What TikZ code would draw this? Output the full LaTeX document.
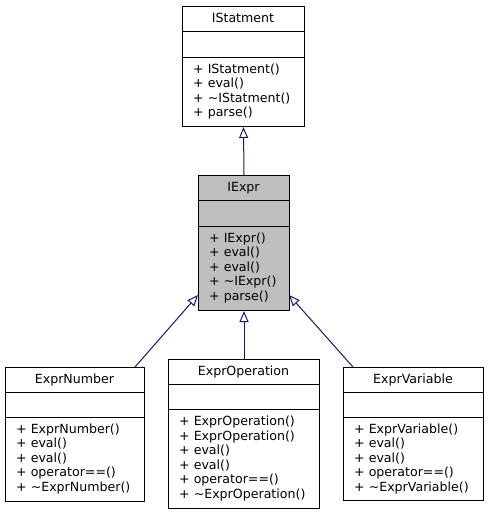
\documentclass[tikz,border=0pt]{standalone}
\usepackage{fontspec}
\setmainfont{DejaVu Sans}
\usetikzlibrary{arrows.meta}
\definecolor{edgeblue}{HTML}{191970}
\definecolor{grey75}{HTML}{BFBFBF}
\tikzset{
  box/.style={draw=black, line width=1pt},
  divider/.style={draw=black, line width=1pt},
  title/.style={anchor=base, inner sep=0pt, font=\fontsize{12.6}{14.5}\selectfont},
  members/.style={anchor=north west, inner sep=0pt, align=left, font=\fontsize{12.6}{14.5}\selectfont},
  inherit/.style={draw=edgeblue, line width=1pt, -{Triangle[open, length=11pt, width=9pt, fill=white]}}
}
% #1 name, #2 left, #3 top, #4 right, #5 bottom, #6 div1, #7 div2, #8 title, #9 fill
\newcommand{\umlbox}[9]{%
  \node[box, fill=#9, minimum width={#4-#2}, minimum height={#5-#3}, inner sep=0pt, anchor=north west] (#1) at (#2,#3) {};
  \draw[divider] (#2,#6) -- (#4,#6);
  \draw[divider] (#2,#7) -- (#4,#7);
  \node[title] (#1-title) at ({(#2+#4)/2},#3+16.5) {#8};
}
% members node: #1 name, #2 x, #3 baseline of first line, #4 text
\newcommand{\umlmembers}[4]{%
  \node[members] (#1) at (#2,#3-10.15) {\strut#4};
}
\begin{document}
\begin{tikzpicture}[x=1pt, y=-1pt]
\useasboundingbox (0,0) rectangle (489,515);

\umlbox{istat}{182}{6}{304}{126}{31}{57}{IStatment}{white}
\umlmembers{istat-m}{193}{73}{+ IStatment()\\+ eval()\\+ \textasciitilde IStatment()\\+ parse()}

\umlbox{iexpr}{198}{175}{289}{310}{200}{226}{IExpr}{grey75}
\umlmembers{iexpr-m}{209}{242}{+ IExpr()\\+ eval()\\+ eval()\\+ \textasciitilde IExpr()\\+ parse()}

\umlbox{num}{5}{367}{144}{501}{392}{417}{ExprNumber}{white}
\umlmembers{num-m}{16}{433}{+ ExprNumber()\\+ eval()\\+ eval()\\+ operator==()\\+ \textasciitilde ExprNumber()}

\umlbox{op}{168}{359}{319}{508}{384}{409}{ExprOperation}{white}
\umlmembers{op-m}{179}{425.5}{+ ExprOperation()\\+ ExprOperation()\\+ eval()\\+ eval()\\+ operator==()\\+ \textasciitilde ExprOperation()}

\umlbox{var}{343}{367}{483}{500}{392}{417}{ExprVariable}{white}
\umlmembers{var-m}{354}{433}{+ ExprVariable()\\+ eval()\\+ eval()\\+ operator==()\\+ \textasciitilde ExprVariable()}

\coordinate (iexpr-l) at (198,295);
\coordinate (iexpr-r) at (289,295);
\draw[inherit] (iexpr.north) -- (istat.south);
\draw[inherit] (op.north) -- (iexpr.south);
\draw[inherit] (num.north -| 135,0) -- (iexpr-l);
\draw[inherit] (var.north -| 353,0) -- (iexpr-r);
\end{tikzpicture}
\end{document}
